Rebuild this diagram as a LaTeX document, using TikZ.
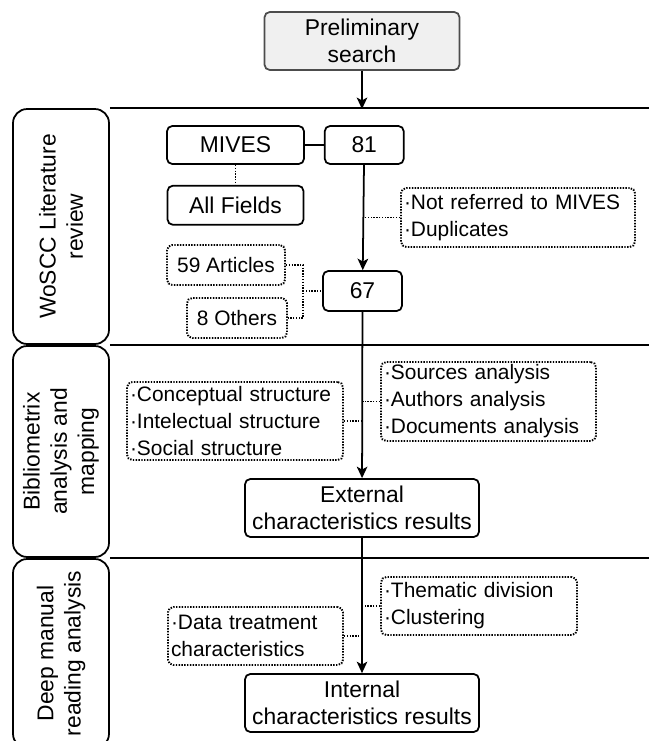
\documentclass[tikz,border=0pt]{standalone}
\usepackage{fontspec}
\setmainfont{Liberation Sans}
\usetikzlibrary{calc}
\usetikzlibrary{arrows.meta}
\tikzset{%
  myedge/.style={-{Stealth[length=6.5pt, width=6pt, inset=1.6pt]}, line width=1pt},
  myline/.style={line width=1pt},
  mydots/.style={line width=1.1pt, dash pattern=on 0.8pt off 0.8pt},
  mybox/.style={rectangle, rounded corners=3pt, draw=black, line width=1pt, align=center,
    inner sep=0pt, font=\fontsize{13}{15.5}\selectfont},
  mynote/.style={rectangle, rounded corners=3pt, draw=black, line width=1.1pt,
    dash pattern=on 0.8pt off 0.8pt, align=left, inner xsep=0.06cm, inner ysep=0pt,
    font=\fontsize{11.9}{15.4}\selectfont},
  mylane/.style={rectangle, rounded corners=8pt, draw=black, line width=1pt, align=center,
    rotate=90, minimum height=1.92cm, font=\fontsize{13}{15.5}\selectfont}
}

\begin{document}
\begin{tikzpicture}[x=0.02cm, y=-0.02cm]
  \useasboundingbox (0,0) rectangle (649,741);
  \coordinate (r) at (649,0);
  % lanes
  \node[mylane, minimum width=4.7cm] (lane1) at (61,226.5) {WoSCC Literature\\review};
  \node[mylane, minimum width=4.22cm] (lane2) at (61,451.5) {Bibliometrix\\analysis and\\mapping};
  \node[mylane, minimum width=3.78cm] (lane3) at (61,653.5) {Deep manual\\reading analysis};
  \draw[myline] (lane1.south east) -- (lane1.south east -| r);
  \draw[myline] (lane1.south west) -- (lane1.south west -| r);
  \draw[myline] (lane2.south west) -- (lane2.south west -| r);
  % main chain
  \node[mybox, fill=black!6, draw=black!70, minimum width=3.9cm, minimum height=1.16cm] (pre) at (362,41) {Preliminary\\search};
  \coordinate (top) at (362,109);
  \node[mybox, minimum width=2.74cm, minimum height=0.76cm] (mives) at (235.5,145) {MIVES};
  \node[mybox, minimum width=1.58cm, minimum height=0.76cm, right=0.38cm] (n81) at (mives.east) {81};
  \node[mybox, minimum width=2.72cm, minimum height=0.78cm, below=0.4cm] (allf) at (mives.south) {All Fields};
  \node[mybox, minimum width=1.58cm, minimum height=0.8cm] (n67) at (362.5,291) {67};
  \node[mybox, minimum width=4.68cm, minimum height=1.16cm] (ext) at (362,508) {External\\characteristics results};
  \node[mybox, minimum width=4.68cm, minimum height=1.16cm] (int) at (362,703) {Internal\\characteristics results};
  % notes
  \node[mynote, text width=4.56cm, minimum height=1.18cm] (excl) at (518,217.5) {·Not referred to MIVES\\·Duplicates};
  \node[mynote, minimum width=2.36cm, minimum height=0.8cm] (art) at (226,265) {59 Articles};
  \node[mynote, minimum width=2cm, minimum height=0.8cm] (oth) at (237,318) {8 Others};
  \node[mynote, text width=4.18cm, minimum height=1.58cm] (src) at (488.5,401.5) {·Sources analysis\\·Authors analysis\\·Documents analysis};
  \node[mynote, text width=4.2cm, minimum height=1.56cm] (struct) at (235,421) {·Conceptual structure\\·Intelectual structure\\·Social structure};
  \node[mynote, text width=3.8cm, minimum height=1.16cm] (them) at (479,606) {·Thematic division\\·Clustering};
  \node[mynote, text width=3.38cm, minimum height=1.16cm] (data) at (255.5,636) {·Data treatment\\characteristics};
  \coordinate (brk) at (303,291);
  % connectors
  \draw[myedge] (pre) -- (top);
  \draw[myline] (mives) -- (n81);
  \draw[mydots] (mives) -- (allf);
  \draw[myedge] (n81) -- (n67);
  \draw[myedge] (n67) -- (ext);
  \draw[myedge] (ext) -- (int);
  \draw[mydots] (excl.west) -- (excl.west -| n81);
  \draw[mydots] (art.east) -| (brk) |- (oth.east);
  \draw[mydots] (brk) -- (n67.west);
  \draw[mydots] (src.west) -- (src.west -| n67);
  \draw[mydots] (struct.east) -- (struct.east -| n67);
  \draw[mydots] (them.west) -- (them.west -| ext);
  \draw[mydots] (data.east) -- (data.east -| ext);
\end{tikzpicture}
\end{document}
